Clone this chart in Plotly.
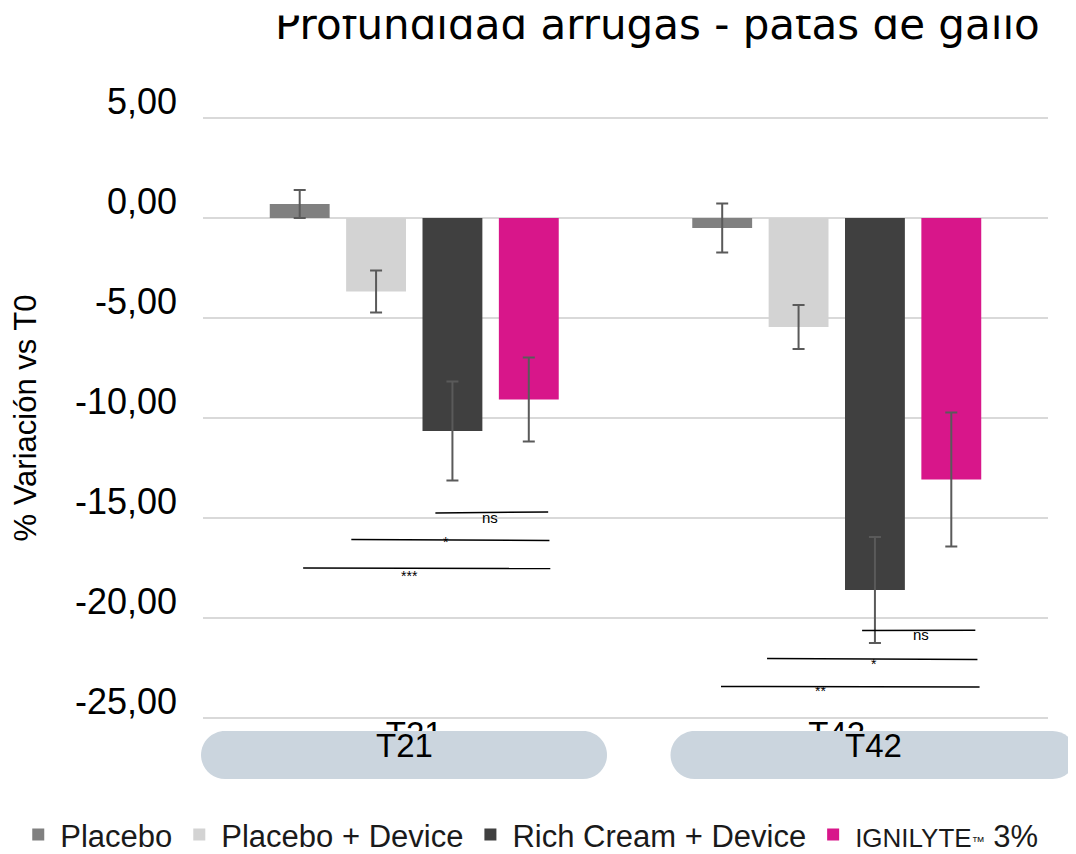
import plotly.graph_objects as go

# datos
times = ['T21', 'T42']
groups = ['Placebo', 'Placebo + Device', 'Rich Cream + Device',
          "<span style='font-size:26px'>IGNILYTE</span>"
          "<span style='font-size:13px'>™</span> 3%"]
placebo = [0.70, -0.50]
placebo_err = [0.70, 1.22]
placebo_dev = [-3.68, -5.45]
placebo_dev_err = [1.05, 1.10]
rich_dev = [-10.65, -18.60]
rich_dev_err = [2.47, 2.65]
ignilyte = [-9.08, -13.08]
ignilyte_err = [2.10, 3.35]
sig_labels = ['ns', '*', '***', 'ns', '*', '**']
y_ticks = [5, 0, -5, -10, -15, -20, -25]
y_ticktext = ['5,00', '0,00', '-5,00', '-10,00', '-15,00', '-20,00', '-25,00']

colors = ['#808080', '#d3d3d3', '#404040', '#d8168a']
values = [placebo, placebo_dev, rich_dev, ignilyte]
errors = [placebo_err, placebo_dev_err, rich_dev_err, ignilyte_err]

fig = go.Figure()
for name, vals, errs, col in zip(groups, values, errors, colors):
    fig.add_trace(go.Bar(
        x=times, y=vals, name=name, marker_color=col, marker_line_width=0,
        error_y=dict(type='data', array=errs, color='#5a5a5a', thickness=2, width=6),
    ))

# lineas de significancia: (x0, x1, y0, y1, x texto, y texto)
sig_pos = [
    (0.050, 0.317, -14.75, -14.70, 0.180, -14.95),
    (-0.149, 0.320, -16.08, -16.12, 0.075, -16.22),
    (-0.263, 0.322, -17.50, -17.53, -0.012, -17.90),
    (1.060, 1.328, -20.63, -20.61, 1.200, -20.80),
    (0.835, 1.333, -22.03, -22.08, 1.087, -22.32),
    (0.726, 1.338, -23.42, -23.45, 0.961, -23.65),
]
for lab, (x0, x1, y0, y1, xt, yt) in zip(sig_labels, sig_pos):
    fig.add_shape(type='line', xref='x', yref='y', x0=x0, x1=x1, y0=y0, y1=y1,
                  line=dict(color='black', width=1.5))
    fig.add_annotation(x=xt, y=yt, xref='x', yref='y', text=lab, showarrow=False,
                       font=dict(family='Liberation Sans, Arial', size=15 if lab == 'ns' else 14,
                                 color='black'))

# pastillas bajo el eje x
pill = ('M -179,-24 L 179,-24 C 192.25,-24 203,-13.25 203,0 C 203,13.25 192.25,24 179,24 '
        'L -179,24 C -192.25,24 -203,13.25 -203,0 C -203,-13.25 -192.25,-24 -179,-24 Z')
for xa, lab in zip([0.2379, 0.7935], times):
    fig.add_shape(type='path', path=pill, xref='paper', yref='paper',
                  xsizemode='pixel', ysizemode='pixel', xanchor=xa, yanchor=-0.058,
                  fillcolor='#cbd5de', line=dict(width=0), layer='above')
    fig.add_annotation(x=xa, y=-0.0414, xref='paper', yref='paper', text=lab,
                       showarrow=False, xanchor='center', yanchor='middle',
                       font=dict(family='Liberation Sans Narrow, Arial Narrow, Liberation Sans',
                                 size=33, color='black'))

# titulo (recortado arriba como en el original)
fig.add_annotation(x=0.9929, y=1.1507, xref='paper', yref='paper', xanchor='right',
                   yanchor='middle', showarrow=False,
                   text='Profundidad arrugas - patas de gallo',
                   font=dict(family='DejaVu Sans', size=42, color='black'))
fig.add_annotation(x=0.5, y=1.1796, xref='paper', yref='paper', xanchor='center',
                   yanchor='middle', showarrow=False, text=' ', width=1200, height=15,
                   bgcolor='white', borderpad=0)

# la pagina deja 8 px de margen: figura de 1068 x 846
fig.update_layout(
    width=1068, height=846,
    margin=dict(l=195, r=28, t=108, b=134, autoexpand=False),
    paper_bgcolor='white', plot_bgcolor='white',
    barmode='group', bargap=0.277, bargroupgap=0.216,
    showlegend=True,
    legend=dict(orientation='h', x=-0.221, xanchor='left', y=-0.19, yanchor='middle',
                itemwidth=34,
                font=dict(family='Liberation Sans, Arial', size=31, color='#1a1a1a'),
                itemclick=False),
    xaxis=dict(showgrid=False, showline=False, ticks='', ticklabelstandoff=-9,
               tickfont=dict(family='Liberation Sans Narrow, Arial Narrow, Liberation Sans',
                             size=33, color='black')),
    yaxis=dict(range=[-25.1, 5.1], tickvals=y_ticks, ticktext=y_ticktext,
               showgrid=True, gridcolor='#d9d9d9', gridwidth=2,
               zeroline=True, zerolinecolor='#d9d9d9', zerolinewidth=2,
               showline=False, ticks='', ticklabelstandoff=25, ticklabelshift=-17,
               tickfont=dict(family='Liberation Sans, Arial', size=36, color='black'),
               title=dict(text='% Variación vs T0', standoff=33,
                          font=dict(family='Liberation Sans, Arial', size=31, color='black'))),
)

fig.write_html('out.html')
